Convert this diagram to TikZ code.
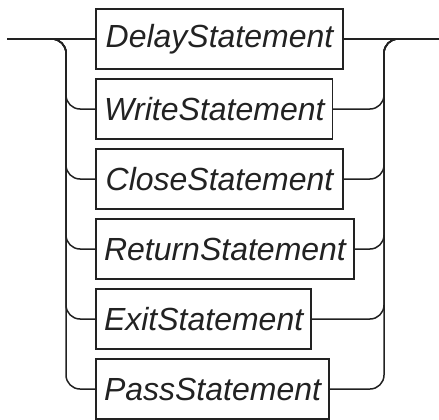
\documentclass[tikz,border=0pt]{standalone}
\usepackage{fontspec}
\setmainfont{Liberation Sans}
\usetikzlibrary{positioning}
\definecolor{railGray}{HTML}{222222}
\tikzset{
    stmt/.style={
        rectangle,
        draw=railGray,
        line width=1.5pt,
        outer sep=0pt,
        inner xsep=8pt,
        minimum height=60pt,
        text=railGray,
        font=\fontsize{32}{38}\selectfont\itshape
    },
    rail/.style={line width=1.5pt,draw=railGray,rounded corners=14pt}
}
\begin{document}
\begin{tikzpicture}[x=1pt,y=-1pt,node distance=10pt]
    \useasboundingbox (0,0) rectangle (439,420);
    \coordinate (start) at (7,39);
    \coordinate (end) at (439,39);
    \coordinate (railL) at (66,39);
    \coordinate (railR) at (384,39);

    \node[stmt, anchor=north west, minimum width=247pt] (delay) at (96,9) {DelayStatement};
    \node[stmt, below=of delay.south west, anchor=north west] (write) {WriteStatement};
    \node[stmt, below=of write.south west, anchor=north west, minimum width=247pt] (close) {CloseStatement};
    \node[stmt, below=of close.south west, anchor=north west] (return) {ReturnStatement};
    \node[stmt, below=of return.south west, anchor=north west] (exit) {ExitStatement};
    \node[stmt, below=of exit.south west, anchor=north west] (pass) {PassStatement};

    \draw[rail] (start) -- (delay.west);
    \draw[rail] (delay.east) -- (end);
    \foreach \s in {write,close,return,exit,pass} {
        \draw[rail] (start) -| (railL |- \s.west) -- (\s.west);
        \draw[rail] (\s.east) -| (railR) -- (end);
    }
\end{tikzpicture}
\end{document}
